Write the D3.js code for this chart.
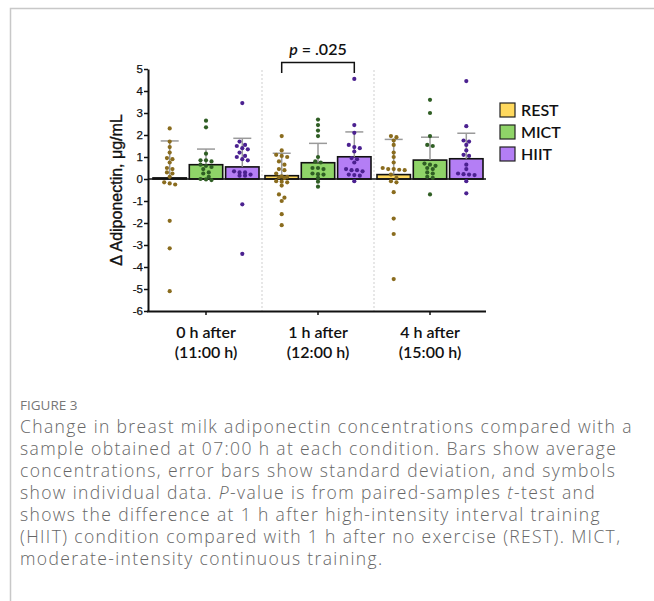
<!DOCTYPE html>
<html>
  <head>
    <title>Figure 3</title>
    <meta http-equiv="Content-Type" content="text/html; charset=UTF-8">
    <script src="https://d3js.org/d3.v7.min.js"></script>
    <style>
      body { margin: 0; background: #fff; }
    </style>
  </head>

  <body>
    <div id="chart"></div>

    <script>
      // data
      var groups = ["0 h after", "1 h after", "4 h after"];
      var groupTimes = ["(11:00 h)", "(12:00 h)", "(15:00 h)"];
      var conditions = ["REST", "MICT", "HIIT"];
      var yTicks = [-6, -5, -4, -3, -2, -1, 0, 1, 2, 3, 4, 5];

      var meanREST = [0.05, 0.15, 0.2];
      var meanMICT = [0.65, 0.74, 0.86];
      var meanHIIT = [0.55, 1.01, 0.92];
      var sdREST = [1.68, 1.02, 1.6];
      var sdMICT = [0.71, 0.88, 1.04];
      var sdHIIT = [1.3, 1.13, 1.16];

      var pointsREST = [
        [2.3, 1.7, 1.45, 1.2, 0.95, 0.9, 0.75, 0.5, 0.45, 0.3, 0.25, 0.1, -0.15, -0.2, -0.25, -1.9, -3.15, -5.1],
        [1.95, 1.3, 1.1, 1.05, 1.0, 0.8, 0.65, 0.45, 0.4, 0.25, 0.12, 0.1, 0.08, 0.05, -0.1, -0.12, -0.15, -0.3, -0.7, -0.85, -1.0, -1.6, -2.1],
        [1.95, 1.9, 1.75, 1.55, 1.2, 1.0, 0.75, 0.5, 0.45, 0.45, 0.42, 0.4, 0.2, 0.05, -0.1, -0.15, -0.6, -1.8, -2.5, -4.55]
      ];
      var pointsMICT = [
        [2.65, 2.35, 1.15, 0.85, 0.85, 0.8, 0.65, 0.6, 0.55, 0.45, 0.3, 0.25, 0.1, 0.0, -0.02, -0.05],
        [2.7, 2.45, 2.2, 1.95, 1.0, 0.8, 0.75, 0.5, 0.5, 0.45, 0.25, 0.22, 0.2, 0.05, -0.12, -0.35],
        [3.6, 3.0, 1.95, 1.55, 1.5, 0.7, 0.65, 0.6, 0.5, 0.45, 0.3, 0.25, 0.1, 0.05, -0.7]
      ];
      var pointsHIIT = [
        [3.45, 1.7, 1.55, 1.5, 1.4, 1.35, 1.2, 1.05, 1.0, 0.9, 0.85, 0.35, 0.3, 0.3, 0.2, 0.15, 0.15, -1.15, -3.4],
        [4.55, 2.45, 2.1, 1.55, 1.45, 1.4, 1.25, 0.95, 0.9, 0.75, 0.45, 0.4, 0.4, 0.35, 0.2, 0.18, 0.15, -0.1],
        [4.45, 2.4, 1.75, 1.7, 1.55, 1.3, 1.1, 1.05, 0.65, 0.45, 0.25, 0.22, 0.2, 0.18, -0.1, -0.65]
      ];

      var pText = ".025";
      var captionTitle = "FIGURE 3";
      var captionLines = [
        [["Change in breast milk adiponectin concentrations compared with a", false]],
        [["sample obtained at 07:00 h at each condition. Bars show average", false]],
        [["concentrations, error bars show standard deviation, and symbols", false]],
        [["show individual data. ", false], ["P", true], ["-value is from paired-samples ", false], ["t", true], ["-test and", false]],
        [["shows the difference at 1 h after high-intensity interval training", false]],
        [["(HIIT) condition compared with 1 h after no exercise (REST). MICT,", false]],
        [["moderate-intensity continuous training.", false]]
      ];

      var means = {REST: meanREST, MICT: meanMICT, HIIT: meanHIIT};
      var sds = {REST: sdREST, MICT: sdMICT, HIIT: sdHIIT};
      var points = {REST: pointsREST, MICT: pointsMICT, HIIT: pointsHIIT};
      var fills = {REST: "#ffd95e", MICT: "#8fd468", HIIT: "#b47ef5"};
      var dotColors = {REST: "#8a6c1e", MICT: "#2f5e24", HIIT: "#4b2190"};

      var svg = d3.select("#chart").append("svg").attr("width", 654).attr("height", 601);

      // panel frame
      svg.append("path")
        .attr("d", "M10.5,601 V8.5 H654")
        .attr("fill", "none").attr("stroke", "#c8c8c8").attr("stroke-width", 1.5);

      var y = d3.scaleLinear().domain([-6, 5]).range([311, 69]);
      var x0 = d3.scaleBand().domain(groups).range([150, 486]);
      var x1 = d3.scaleBand().domain(conditions).range([3, 109]).paddingInner(0.08);

      var g = svg.append("g");

      // dotted group separators
      g.selectAll(".sep").data(groups.slice(1)).enter().append("line")
        .attr("x1", function(d) { return x0(d); }).attr("x2", function(d) { return x0(d); })
        .attr("y1", 70).attr("y2", 311)
        .attr("stroke", "#cfcfcf").attr("stroke-dasharray", "2,2");

      var rows = [];
      groups.forEach(function(gr, i) {
        conditions.forEach(function(c) {
          rows.push({group: gr, gi: i, cond: c, mean: means[c][i], sd: sds[c][i], pts: points[c][i]});
        });
      });

      // bars
      g.selectAll(".bar").data(rows).enter().append("rect")
        .attr("x", function(d) { return x0(d.group) + x1(d.cond); })
        .attr("width", x1.bandwidth())
        .attr("y", function(d) { return y(Math.max(0, d.mean)); })
        .attr("height", function(d) { return Math.abs(y(d.mean) - y(0)); })
        .attr("fill", function(d) { return fills[d.cond]; })
        .attr("stroke", "#111").attr("stroke-width", 1.6);

      // error bars (upper only)
      var eb = g.selectAll(".err").data(rows).enter().append("g")
        .attr("transform", function(d) { return "translate(" + (x0(d.group) + x1(d.cond) + x1.bandwidth() / 2) + ",0)"; });
      eb.append("line")
        .attr("y1", function(d) { return y(d.mean); })
        .attr("y2", function(d) { return y(d.mean + d.sd); })
        .attr("stroke", "#9a9a9a").attr("stroke-width", 1.5);
      eb.append("line")
        .attr("x1", -9).attr("x2", 9)
        .attr("y1", function(d) { return y(d.mean + d.sd); })
        .attr("y2", function(d) { return y(d.mean + d.sd); })
        .attr("stroke", "#9a9a9a").attr("stroke-width", 1.5);

      // zero line
      g.append("line").attr("x1", 148).attr("x2", 486)
        .attr("y1", y(0)).attr("y2", y(0))
        .attr("stroke", "#111").attr("stroke-width", 1.6);

      // scatter of individual values, spread sideways when they overlap
      function spread(vals) {
        var s = vals.map(function(v) { return {v: v, py: y(v)}; }).sort(function(a, b) { return a.py - b.py; });
        var out = [], row = [];
        function flush() {
          row.forEach(function(p, k) { p.dx = (k - (row.length - 1) / 2) * 5.5; out.push(p); });
          row = [];
        }
        s.forEach(function(p) {
          if (row.length && p.py - row[0].py > 3.5) flush();
          row.push(p);
        });
        flush();
        return out;
      }
      rows.forEach(function(d) {
        var cx = x0(d.group) + x1(d.cond) + x1.bandwidth() / 2;
        g.append("g").selectAll("circle").data(spread(d.pts)).enter().append("circle")
          .attr("cx", function(p) { return cx + p.dx; })
          .attr("cy", function(p) { return p.py; })
          .attr("r", 2.1)
          .attr("fill", dotColors[d.cond]);
      });

      // axes
      var yAxis = g.append("g").attr("transform", "translate(148,0)")
        .call(d3.axisLeft(y).tickValues(yTicks).tickSize(4).tickSizeOuter(0).tickFormat(function(d) { return String(d); }));
      yAxis.select(".domain").attr("stroke", "#111").attr("stroke-width", 2);
      yAxis.selectAll(".tick line").attr("stroke", "#111").attr("stroke-width", 1.5);
      yAxis.selectAll(".tick text").attr("x", -5).attr("font-family", "Liberation Sans, Arial, sans-serif")
        .attr("font-size", 11.5).attr("fill", "#111").attr("stroke", "#111").attr("stroke-width", 0.25);

      var xAxis = g.append("g").attr("transform", "translate(0,311)")
        .call(d3.axisBottom(x0).tickSize(4).tickSizeOuter(0).tickFormat(""));
      xAxis.select(".domain").attr("stroke", "#111").attr("stroke-width", 2).attr("d", "M147,0.5H486");
      xAxis.selectAll(".tick line").attr("stroke", "#111").attr("stroke-width", 1.5);

      var xl = g.selectAll(".xl").data(groups).enter().append("text")
        .attr("x", function(d) { return x0(d) + x0.bandwidth() / 2; })
        .attr("text-anchor", "middle")
        .attr("font-family", "Lato, sans-serif").attr("font-weight", 600).attr("font-size", 16).attr("fill", "#111");
      xl.append("tspan").attr("y", 338).text(function(d) { return d; });
      xl.append("tspan").attr("y", 358).attr("x", function(d) { return x0(d) + x0.bandwidth() / 2; })
        .text(function(d, i) { return groupTimes[i]; });

      // y label
      g.append("text")
        .attr("transform", "translate(122," + y(-0.5) + ") rotate(-90)")
        .attr("text-anchor", "middle")
        .attr("font-family", "Liberation Sans, Arial, sans-serif").attr("font-size", 16).attr("fill", "#111")
        .attr("stroke", "#111").attr("stroke-width", 0.35)
        .text("\u0394 Adiponectin, \u03bcg/mL");

      // significance bracket between REST and HIIT at 1 h
      var bx1 = x0(groups[1]) + x1("REST") + x1.bandwidth() / 2;
      var bx2 = x0(groups[1]) + x1("HIIT") + x1.bandwidth() / 2;
      g.append("path")
        .attr("d", "M" + bx1 + ",73 V62.5 H" + bx2 + " V73")
        .attr("fill", "none").attr("stroke", "#111").attr("stroke-width", 1.5);
      var pt = g.append("text").attr("x", (bx1 + bx2) / 2).attr("y", 55).attr("text-anchor", "middle")
        .attr("font-family", "Lato, sans-serif").attr("font-weight", 600).attr("font-size", 16).attr("fill", "#111");
      pt.append("tspan").attr("font-style", "italic").text("p");
      pt.append("tspan").text(" = " + pText);

      // legend
      var lg = g.selectAll(".lg").data(conditions).enter().append("g")
        .attr("transform", function(d, i) { return "translate(500," + (103 + i * 22) + ")"; });
      lg.append("rect").attr("width", 15).attr("height", 14)
        .attr("fill", function(d) { return fills[d]; }).attr("stroke", "#222").attr("stroke-width", 1.2);
      lg.append("text").attr("x", 21).attr("y", 12.5)
        .attr("font-family", "Lato, sans-serif").attr("font-weight", 600).attr("font-size", 16).attr("fill", "#111")
        .text(function(d) { return d; });

      // caption
      svg.append("text").attr("x", 20).attr("y", 410)
        .attr("font-family", "Open Sans, sans-serif").attr("font-size", 13.5).attr("fill", "#777")
        .text(captionTitle);
      var cap = svg.selectAll(".cap").data(captionLines).enter().append("text")
        .attr("x", 20).attr("y", function(d, i) { return 433 + i * 22; })
        .attr("font-family", "Open Sans, sans-serif").attr("font-weight", 300).attr("font-size", 17).attr("fill", "#666");
      cap.selectAll("tspan").data(function(d) { return d; }).enter().append("tspan")
        .attr("font-style", function(d) { return d[1] ? "italic" : null; })
        .text(function(d) { return d[0]; });
      // fit the first caption line to the width it has in the figure:
      // grow the font a little, then make up the rest with letter spacing
      var first = cap.node();
      var w = first.getComputedTextLength();
      if (w > 0) {
        var fs = Math.min(17.5, 17 * 613 / w);
        cap.attr("font-size", fs);
        var w2 = first.getComputedTextLength();
        var n = captionLines[0][0][0].length;
        if (w2 < 613) cap.attr("letter-spacing", ((613 - w2) / n).toFixed(2) + "px");
      }
    </script>
  </body>
</html>
